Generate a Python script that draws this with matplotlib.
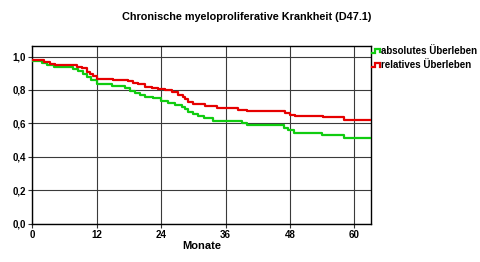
import matplotlib
matplotlib.use("Agg")
import matplotlib.pyplot as plt
from matplotlib.legend_handler import HandlerBase
from matplotlib.lines import Line2D

plt.rcParams['font.family'] = ['Liberation Sans', 'DejaVu Sans']

title = "Chronische myeloproliferative Krankheit (D47.1)"
xlabel = "Monate"
series_labels = ["absolutes Überleben", "relatives Überleben"]
x_ticks = [0, 12, 24, 36, 48, 60]
y_ticks = [0.0, 0.2, 0.4, 0.6, 0.8, 1.0]
y_tick_labels = ["0,0", "0,2", "0,4", "0,6", "0,8", "1,0"]

abs_t = [0, 1.8, 2.7, 4.0, 7.6, 8.6, 9.5, 10.1, 11.0, 12.0, 14.8, 17.3, 18.2, 19.1,
         20.1, 21.0, 22.5, 24.0, 25.3, 26.5, 27.8, 28.5, 29.1, 30.0, 30.9, 31.9,
         33.7, 39.0, 40.0, 46.8, 47.7, 48.7, 53.9, 58.0, 63.1]
abs_v = [0.976, 0.964, 0.950, 0.936, 0.928, 0.914, 0.898, 0.878, 0.860, 0.838, 0.825,
         0.810, 0.794, 0.780, 0.768, 0.758, 0.749, 0.736, 0.722, 0.707, 0.698, 0.686,
         0.670, 0.656, 0.646, 0.632, 0.616, 0.600, 0.588, 0.572, 0.560, 0.544, 0.530,
         0.511, 0.511]

rel_t = [0, 2.1, 3.3, 4.2, 8.3, 9.2, 10.1, 10.7, 11.4, 12.0, 15.1, 17.9, 18.8, 19.7,
         21.0, 22.3, 23.5, 24.7, 26.0, 27.2, 28.0, 28.5, 29.1, 30.0, 32.2, 34.4, 38.4,
         40.0, 47.1, 48.0, 49.0, 54.1, 58.0, 63.1]
rel_v = [0.980, 0.970, 0.958, 0.948, 0.940, 0.930, 0.910, 0.898, 0.886, 0.868, 0.862,
         0.852, 0.842, 0.834, 0.820, 0.814, 0.808, 0.798, 0.786, 0.772, 0.758, 0.746,
         0.730, 0.716, 0.702, 0.690, 0.682, 0.672, 0.660, 0.650, 0.644, 0.636, 0.622,
         0.622]

green = '#10cc10'
red = '#e60000'


class StepHandler(HandlerBase):
    def create_artists(self, legend, orig_handle, xdescent, ydescent, width, height,
                       fontsize, trans):
        x0 = -xdescent
        y0 = -ydescent
        xs = [x0, x0 + 0.45 * width, x0 + 0.45 * width, x0 + width, x0 + width]
        ys = [y0 + 0.2 * height, y0 + 0.2 * height, y0 + 0.75 * height,
              y0 + 0.75 * height, y0 + 0.25 * height]
        ln = Line2D(xs, ys, color=orig_handle.get_color(), lw=1.6,
                    solid_joinstyle='miter')
        ln.set_transform(trans)
        return [ln]


fig = plt.figure(figsize=(4.8, 2.62), dpi=100)
ax = fig.add_axes([32.3 / 480, 1 - 223.5 / 262, (371 - 32.3) / 480, (223.5 - 46) / 262])

l1, = ax.step(abs_t, abs_v, where='post', color=green, lw=1.6, zorder=3)
l2, = ax.step(rel_t, rel_v, where='post', color=red, lw=1.6, zorder=4)

ax.set_xlim(0, 63.1)
ax.set_ylim(0, 1.063)
ax.set_xticks(x_ticks)
ax.set_xticklabels([str(v) for v in x_ticks], fontsize=7, fontweight='bold')
ax.set_yticks(y_ticks)
ax.set_yticklabels(y_tick_labels, fontsize=7, fontweight='bold')
ax.tick_params(axis='both', length=3, width=0.8, pad=1.5, color='#333333')
ax.grid(True, color='#3a3a3a', lw=0.8)
ax.set_axisbelow(True)
for s in ax.spines.values():
    s.set_color('black')
    s.set_linewidth(1.0)

ax.set_xlabel(xlabel, fontsize=8, fontweight='bold', labelpad=1)

fig.text(247 / 480, 1 - 17 / 262, title, ha='center', va='center', fontsize=7.8,
         fontweight='bold')

leg = fig.legend([l1, l2], series_labels, loc='upper left',
                 bbox_to_anchor=(371.5 / 480, 1 - 46 / 262), frameon=False,
                 handler_map={Line2D: StepHandler()}, handlelength=0.85,
                 handletextpad=0.15, borderpad=0, borderaxespad=0, labelspacing=0.45,
                 prop={'size': 7, 'weight': 'bold'})

fig.savefig('out.png', dpi=100)
